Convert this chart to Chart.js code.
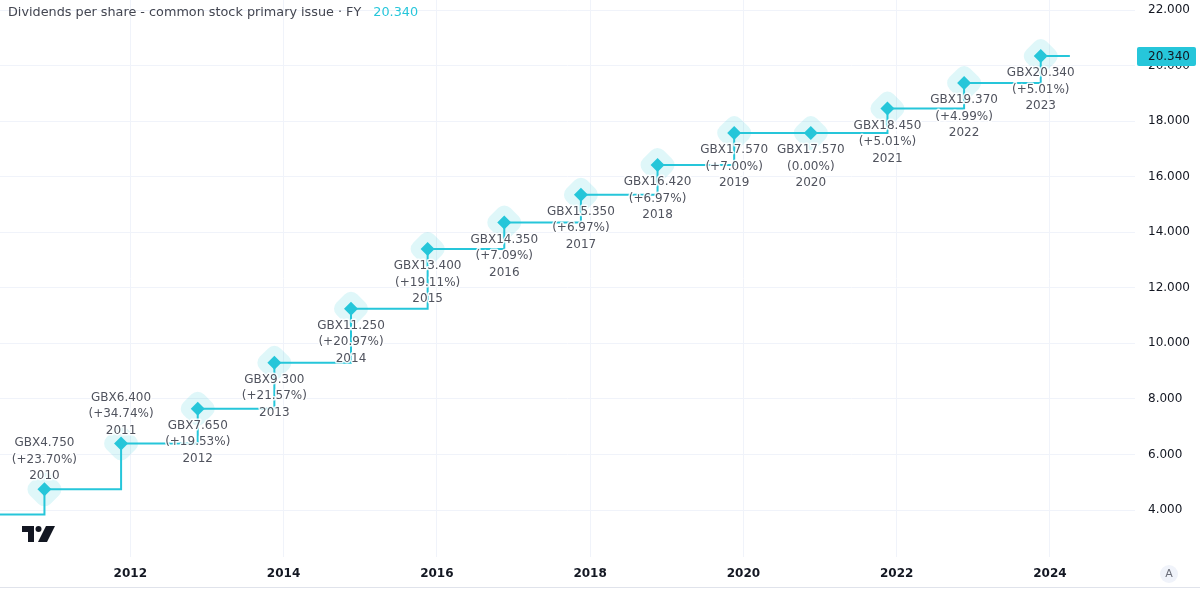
<!DOCTYPE html>
<html>
<head>
<meta charset="utf-8">
<script src="https://cdn.jsdelivr.net/npm/chart.js@4"></script>
<style>
  html, body { margin: 0; padding: 0; background: #fff; }
  #wrap { width: 1200px; height: 592px; position: relative; }
</style>
</head>
<body>
<div id="wrap"><canvas id="dpsChart"></canvas></div>
<script>
// fiscal years and dividends per share (GBX)
const fiscalYears = [2010, 2011, 2012, 2013, 2014, 2015, 2016, 2017, 2018, 2019, 2020, 2021, 2022, 2023];
const dps = [4.75, 6.40, 7.65, 9.30, 11.25, 13.40, 14.35, 15.35, 16.42, 17.57, 17.57, 18.45, 19.37, 20.34];
const changes = ['+23.70%', '+34.74%', '+19.53%', '+21.57%', '+20.97%', '+19.11%', '+7.09%', '+6.97%', '+6.97%', '+7.00%', '0.00%', '+5.01%', '+4.99%', '+5.01%'];
const prevValue = 3.84;   // FY2009, only the line entering from the left
const yTicks = [4, 6, 8, 10, 12, 14, 16, 18, 20, 22];
const xTicks = [2012, 2014, 2016, 2018, 2020, 2022, 2024];

const CYAN = '#26c6da';
const FONT = "'DejaVu Sans', Verdana, sans-serif";

// report date sits near mid-November of each fiscal year
const pts = fiscalYears.map((y, i) => ({ x: y + 0.88, y: dps[i] }));
const linePts = [{ x: 2009.88, y: prevValue }, ...pts, { x: 2024.26, y: dps[dps.length - 1] }];

const labelsPlugin = {
  id: 'dpsLabels',
  afterDatasetsDraw(chart) {
    const ctx = chart.ctx;
    const meta = chart.getDatasetMeta(2);
    ctx.save();
    ctx.font = '12px ' + FONT;
    ctx.textAlign = 'center';
    ctx.textBaseline = 'middle';
    ctx.lineJoin = 'round';
    meta.data.forEach((el, i) => {
      const lines = ['GBX' + dps[i].toFixed(3), '(' + changes[i] + ')', String(fiscalYears[i])];
      const above = i < 2;
      lines.forEach((t, k) => {
        const yy = above ? el.y - 13 - (2 - k) * 16.5 : el.y + 17 + k * 16.5;
        ctx.strokeStyle = 'rgba(255,255,255,0.85)';
        ctx.lineWidth = 3;
        ctx.strokeText(t, el.x, yy);
        ctx.fillStyle = '#50535e';
        ctx.fillText(t, el.x, yy);
      });
    });
    ctx.restore();
  },
  afterDraw(chart) {
    const ctx = chart.ctx;
    ctx.save();
    // title
    ctx.font = '12.8px ' + FONT;
    ctx.textBaseline = 'middle';
    ctx.textAlign = 'left';
    const title = 'Dividends per share - common stock primary issue \u00b7 FY';
    ctx.fillStyle = '#434651';
    ctx.fillText(title, 8, 13);
    const w = ctx.measureText(title).width;
    ctx.fillStyle = CYAN;
    ctx.fillText('20.340', 8 + w + 12, 13);

    // last value tag on the price axis
    const yScale = chart.scales.y;
    const ty = yScale.getPixelForValue(dps[dps.length - 1]);
    ctx.font = '12px ' + FONT;
    ctx.fillStyle = CYAN;
    ctx.beginPath();
    ctx.roundRect(1137, ty - 9, 59, 19, 2);
    ctx.fill();
    ctx.fillStyle = '#131722';
    ctx.fillText('20.340', 1148, ty + 1);

    // bottom separator
    ctx.strokeStyle = '#e0e3eb';
    ctx.lineWidth = 1;
    ctx.beginPath();
    ctx.moveTo(0, 587.5);
    ctx.lineTo(1200, 587.5);
    ctx.stroke();

    // "A" auto-scale button
    ctx.fillStyle = '#f0f3fa';
    ctx.beginPath();
    ctx.arc(1169, 574, 9, 0, Math.PI * 2);
    ctx.fill();
    ctx.fillStyle = '#6a6d78';
    ctx.textAlign = 'center';
    ctx.font = '11px ' + FONT;
    ctx.fillText('A', 1169, 574);

    // logo
    ctx.fillStyle = '#131722';
    ctx.fillRect(22, 526, 12, 6);
    ctx.fillRect(28, 526, 6, 16);
    ctx.beginPath();
    ctx.arc(38.5, 529, 3, 0, Math.PI * 2);
    ctx.fill();
    ctx.beginPath();
    ctx.moveTo(46, 526);
    ctx.lineTo(55, 526);
    ctx.lineTo(47, 542);
    ctx.lineTo(38, 542);
    ctx.closePath();
    ctx.fill();
    ctx.restore();
  }
};

new Chart(document.getElementById('dpsChart'), {
  type: 'scatter',
  data: {
    datasets: [
      {
        // halo behind each report point
        data: pts,
        showLine: false,
        pointStyle: 'rectRounded',
        rotation: 45,
        pointRadius: 17,
        pointBackgroundColor: 'rgba(38,198,218,0.15)',
        pointBorderWidth: 0
      },
      {
        data: linePts,
        showLine: true,
        stepped: 'before',
        borderColor: CYAN,
        borderWidth: 2,
        pointRadius: 0,
        fill: false
      },
      {
        data: pts,
        showLine: false,
        pointStyle: 'rectRot',
        pointRadius: 7,
        pointBackgroundColor: CYAN,
        pointBorderWidth: 0
      }
    ]
  },
  options: {
    responsive: true,
    maintainAspectRatio: false,
    animation: false,
    layout: { padding: 0, autoPadding: false },
    plugins: { legend: { display: false }, tooltip: { enabled: false } },
    scales: {
      x: {
        type: 'linear',
        min: 2010.3,
        max: 2025.11,
        afterFit(s) { s.height = 35; s.paddingLeft = 0; s.paddingRight = 0; },
        afterBuildTicks(s) { s.ticks = xTicks.map(v => ({ value: v })); },
        grid: { color: '#f0f3fa', drawTicks: false },
        border: { display: false },
        ticks: {
          padding: 10,
          color: '#131722',
          font: { family: FONT, size: 12, weight: 'bold' },
          callback: v => String(v)
        }
      },
      y: {
        position: 'right',
        min: 2.31,
        max: 22.36,
        afterFit(s) { s.width = 65; s.paddingTop = 0; s.paddingBottom = 0; },
        afterBuildTicks(s) { s.ticks = yTicks.map(v => ({ value: v })); },
        grid: { color: '#f0f3fa', drawTicks: false },
        border: { display: false },
        ticks: {
          padding: 13,
          color: '#131722',
          font: { family: FONT, size: 12 },
          callback: v => Number(v).toFixed(3)
        }
      }
    }
  },
  plugins: [labelsPlugin]
});
</script>
</body>
</html>
